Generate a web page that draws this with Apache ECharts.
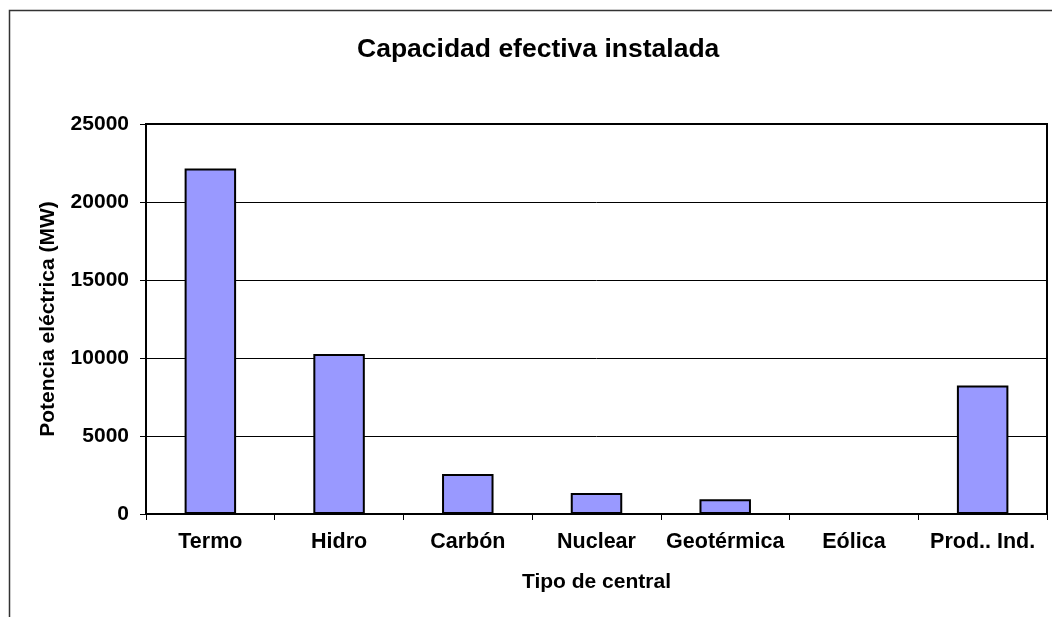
<!DOCTYPE html>
<html>
<head>
<meta charset="utf-8">
<script src="https://cdn.jsdelivr.net/npm/echarts@6/dist/echarts.min.js"></script>
<style>
html,body{margin:0;padding:0;background:#fff;}
#chart{width:1052px;height:617px;}
</style>
</head>
<body>
<div id="chart"></div>
<script>
const categories = ['Termo', 'Hidro', 'Carbón', 'Nuclear', 'Geotérmica', 'Eólica', 'Prod.. Ind.'];
const potencia = [22150, 10250, 2570, 1350, 950, 0, 8230];
const yTicks = { min: 0, max: 25000, interval: 5000 };

const FONT = '"Liberation Sans", Arial, sans-serif';
const chart = echarts.init(document.getElementById('chart'), null, { renderer: 'canvas' });
chart.setOption({
  backgroundColor: '#fff',
  animation: false,
  title: {
    text: 'Capacidad efectiva instalada',
    left: 352,
    top: 31,
    textStyle: { fontFamily: FONT, fontWeight: 'bold', fontSize: 26.5, color: '#000' }
  },
  graphic: [{
    type: 'rect',
    shape: { x: 9.5, y: 10.5, width: 1200, height: 800 },
    style: { fill: 'none', stroke: '#333', lineWidth: 1.5 },
    silent: true
  }],
  grid: {
    left: 146, top: 124, right: 5, bottom: 103,
    show: true, borderColor: '#000', borderWidth: 2, backgroundColor: 'transparent'
  },
  xAxis: {
    type: 'category',
    data: categories,
    name: 'Tipo de central',
    nameLocation: 'middle',
    nameGap: 58,
    nameTextStyle: { fontFamily: FONT, fontWeight: 'bold', fontSize: 21, color: '#000' },
    axisLine: { lineStyle: { color: '#000', width: 2 } },
    axisTick: { show: true, length: 6, inside: false, lineStyle: { color: '#000', width: 1 } },
    axisLabel: { fontFamily: FONT, fontWeight: 'bold', fontSize: 21.5, color: '#000', margin: 17, interval: 0 },
    splitLine: { show: false }
  },
  yAxis: {
    type: 'value',
    min: yTicks.min, max: yTicks.max, interval: yTicks.interval,
    name: 'Potencia eléctrica (MW)',
    nameLocation: 'middle',
    nameGap: 87,
    nameTextStyle: { fontFamily: FONT, fontWeight: 'bold', fontSize: 21, color: '#000' },
    axisLine: { show: true, lineStyle: { color: '#000', width: 2 } },
    axisTick: { show: true, length: 6, inside: false, lineStyle: { color: '#000', width: 1 } },
    axisLabel: { fontFamily: FONT, fontWeight: 'bold', fontSize: 21, color: '#000', margin: 17,
      formatter: function (v) { return String(v); } },
    splitLine: { show: true, lineStyle: { color: '#000', width: 1 } }
  },
  series: [{
    type: 'bar',
    data: potencia,
    barWidth: '40%',
    itemStyle: { color: '#9999FF', borderColor: '#000', borderWidth: 2 }
  }]
});
</script>
</body>
</html>
